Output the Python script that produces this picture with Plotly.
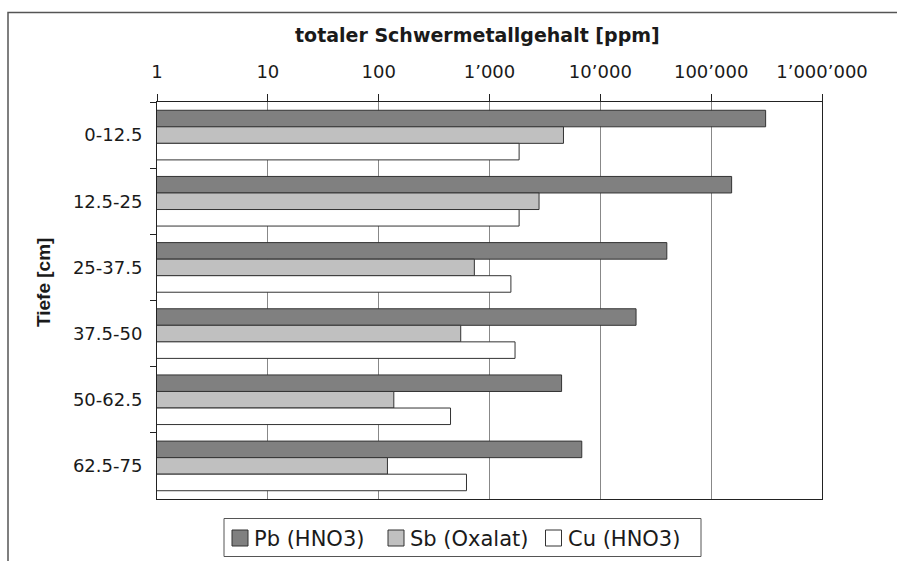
import plotly.graph_objects as go

# Heavy-metal content per soil depth layer (ppm)
depths = ["0-12.5", "12.5-25", "25-37.5", "37.5-50", "50-62.5", "62.5-75"]
pb_hno3 = [310000, 153000, 39800, 21000, 4470, 6800]
sb_oxalat = [4650, 2800, 730, 550, 137, 120]
cu_hno3 = [1850, 1850, 1560, 1700, 445, 620]

series_names = ["Pb (HNO3)", "Sb (Oxalat)", "Cu (HNO3)"]
series_values = [pb_hno3, sb_oxalat, cu_hno3]
series_colors = ["#808080", "#c0c0c0", "#ffffff"]

tick_vals = [1, 10, 100, 1000, 10000, 100000, 1000000]
tick_text = ["1", "10", "100", "1’000", "10’000", "100’000", "1’000’000"]

W, H = 897, 561
ML, MR, MT, MB = 157, 75, 102, 62
PW, PH = W - ML - MR, H - MT - MB


def px(x):
    return (x - ML) / PW


def py(y):
    return (H - MB - y) / PH


fig = go.Figure()
for name, vals, col in zip(series_names, series_values, series_colors):
    fig.add_trace(go.Bar(
        y=depths, x=vals, name=name, orientation="h",
        marker=dict(color=col, line=dict(color="#333333", width=1)),
        showlegend=False,
    ))

shapes = []
annotations = []

# outer chart frame: only the top and left edges fall inside the page
frame = dict(color="#555555", width=1.5)
shapes.append(dict(type="path", xref="paper", yref="paper",
                   path="M {:.5f} {:.5f} L {:.5f} {:.5f} L {:.5f} {:.5f}".format(
                       px(8), py(H), px(8), py(12.5), px(W), py(12.5)),
                   line=frame, layer="below"))

# legend box with swatches
shapes.append(dict(type="rect", xref="paper", yref="paper",
                   x0=px(224), x1=px(701), y0=py(518.5), y1=py(556.5),
                   line=dict(color="#555555", width=1), fillcolor="white"))
swatch_x = [232, 388, 545.5]
for name, col, sx in zip(series_names, series_colors, swatch_x):
    shapes.append(dict(type="rect", xref="paper", yref="paper",
                       x0=px(sx), x1=px(sx + 16), y0=py(530), y1=py(546),
                       line=dict(color="#333333", width=1), fillcolor=col))
    annotations.append(dict(text=name, xref="paper", yref="paper",
                            x=px(sx + 20), y=py(538.5), xanchor="left", yanchor="middle",
                            showarrow=False,
                            font=dict(family="DejaVu Sans", size=21, color="#1a1a1a")))

annotations.append(dict(text="totaler Schwermetallgehalt [ppm]", xref="paper", yref="paper",
                        x=px(477), y=py(35.5), xanchor="center", yanchor="middle",
                        showarrow=False,
                        font=dict(family="DejaVu Sans", size=19, color="#1a1a1a", weight="bold")))
annotations.append(dict(text="Tiefe [cm]", xref="paper", yref="paper",
                        x=px(43), y=py(283), xanchor="center", yanchor="middle",
                        textangle=-90, showarrow=False,
                        font=dict(family="Liberation Sans", size=19, color="#1a1a1a", weight="bold")))

fig.update_layout(
    width=W, height=H,
    margin=dict(l=ML, r=MR, t=MT, b=MB),
    paper_bgcolor="white", plot_bgcolor="white",
    barmode="group", bargap=0.25, bargroupgap=0,
    shapes=shapes, annotations=annotations,
    showlegend=False,
)
fig.update_xaxes(
    type="log", side="top", range=[0, 6],
    tickvals=tick_vals, ticktext=tick_text,
    ticks="outside", ticklen=7, tickcolor="#222222",
    ticklabelstandoff=9,
    showline=True, linecolor="#222222", linewidth=1, mirror=True,
    showgrid=True, gridcolor="#888888", gridwidth=1,
    tickfont=dict(family="DejaVu Sans", size=18, color="#1a1a1a"),
    zeroline=False,
)
fig.update_yaxes(
    type="category", autorange="reversed",
    ticks="outside", ticklen=6, tickcolor="#222222", tickson="boundaries",
    ticklabelstandoff=10,
    showline=True, linecolor="#222222", linewidth=1, mirror=True,
    showgrid=False,
    tickfont=dict(family="DejaVu Sans", size=18, color="#1a1a1a"),
)

fig.write_html("out.html")
